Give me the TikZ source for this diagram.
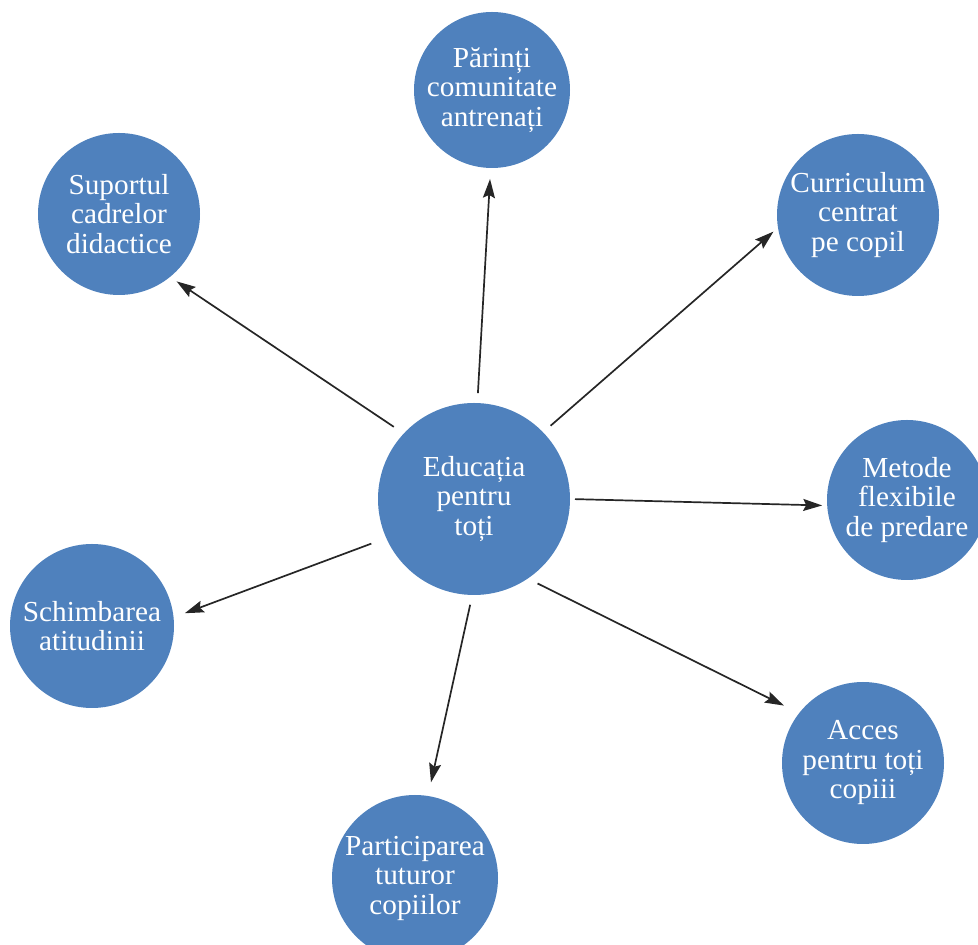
\documentclass[tikz,border=0pt]{standalone}
\usepackage{fontspec}
\setmainfont{Liberation Serif}[FakeStretch=1.01]
\usetikzlibrary{arrows.meta}
\definecolor{bub}{RGB}{79,129,189}
\tikzset{
  bubble/.style={circle, fill=bub, draw=none, inner sep=0pt, outer sep=0pt,
    text=white, align=center, font=\fontsize{29}{29.5}\selectfont},
  arr/.style={draw=black!85, line width=1.7pt, -{Stealth[length=19pt,width=12pt,inset=3pt]}}
}
\begin{document}
\begin{tikzpicture}[x=1pt,y=1pt]
\useasboundingbox (0,0) rectangle (978,945);
\clip (0,0) rectangle (978,945);
\node[bubble, minimum size=192pt] (c) at (474,446) {Educația\\pentru\\toți};
\node[bubble, minimum size=156pt] (p) at (492,855) {Părinți\\comunitate\\antrenați};
\node[bubble, minimum size=162pt] (s) at (119,731) {Suportul\\cadrelor\\didactice};
\node[bubble, minimum size=162pt] (k) at (858,730) {Curriculum\\centrat\\pe copil};
\node[bubble, minimum size=160pt] (m) at (907,445) {Metode\\flexibile\\de predare};
\node[bubble, minimum size=164pt] (h) at (92,319) {Schimbarea\\atitudinii};
\node[bubble, minimum size=166pt] (a) at (415,67) {Participarea\\tuturor\\copiilor};
\node[bubble, minimum size=162pt] (x) at (863,182) {Acces\\pentru toți\\copiii};
\draw[arr, shorten <=12pt, shorten >=8pt] (c.137) -- (s.-51);
\draw[arr, shorten <=10pt, shorten >=11pt] (c.88) -- (p.269.4);
\draw[arr, shorten <=10pt, shorten >=6pt] (c.44) -- (k.189);
\draw[arr, shorten <=5pt, shorten >=5pt] (c.-0.6) -- (m.184.7);
\draw[arr, shorten <=11pt, shorten >=17pt] (c.-56.5) -- (x.142.4);
\draw[arr, shorten <=10pt, shorten >=14pt] (c.-91) -- (a.81);
\draw[arr, shorten <=16pt, shorten >=12pt] (c.204) -- (h.6.7);
\end{tikzpicture}
\end{document}
